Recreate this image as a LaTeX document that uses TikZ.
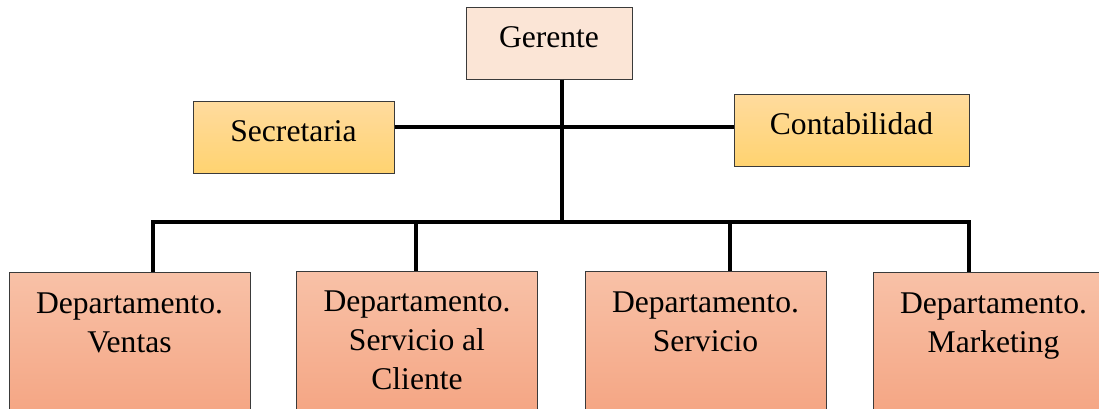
\documentclass[tikz,border=0pt]{standalone}
\usepackage{fontspec}
\setmainfont{Liberation Serif}
\usetikzlibrary{positioning}
\definecolor{gerentefill}{HTML}{FBE5D6}
\definecolor{staffarriba}{HTML}{FFDB9E}
\definecolor{staffabajo}{HTML}{FFD370}
\definecolor{deptarriba}{HTML}{F8C1A7}
\definecolor{deptabajo}{HTML}{F4A27F}
\definecolor{borde}{HTML}{3A3A3A}
\tikzset{
  caja/.style={draw=borde, line width=0.5pt, inner sep=0pt,
    font=\fontsize{15.8}{19.5}\selectfont},
  cajasup/.style={caja, text depth=6pt},
  staff/.style={cajasup, minimum height=36pt, top color=staffarriba, bottom color=staffabajo},
  dept/.style={caja, anchor=north, minimum width=120.5pt, minimum height=80pt,
    top color=deptarriba, bottom color=deptabajo},
  dtexto/.style={inner sep=0pt, align=center, font=\fontsize{15.8}{19.5}\selectfont},
  linea/.style={line width=2pt, line join=miter}
}
\begin{document}
\begin{tikzpicture}[x=0.5pt, y=-0.5pt]
\clip (0,0) rectangle (1099,408);
% cajas de arriba
\node[cajasup, fill=gerentefill, minimum width=83pt, minimum height=36pt] (gerente) at (549,43) {Gerente};
\node[staff, minimum width=100.5pt] (secretaria) at (293.5,137.5) {Secretaria};
\node[staff, minimum width=117.5pt] (contabilidad) at (851.5,130) {Contabilidad};
% departamentos
\node[dept] (ventas) at (129.5,272) {};
\node[dept] (cliente) at (417,271) {};
\node[dept] (servicio) at (705.5,271) {};
\node[dept] (marketing) at (993.5,272) {};
\node[dtexto, below=10pt of ventas.north] (ventas-t) {Departamento.\\ Ventas};
\node[dtexto, below=9.5pt of cliente.north] (cliente-t) {Departamento.\\ Servicio al\\ Cliente};
\node[dtexto, below=10pt of servicio.north] (servicio-t) {Departamento.\\ Servicio};
\node[dtexto, below=10pt of marketing.north] (marketing-t) {Departamento.\\ Marketing};
% lineas
\coordinate (tronco) at (562,222);
\coordinate (apoyo) at (562,127);
\foreach \n/\x in {1/153, 2/416, 3/730, 4/969}
  \coordinate (bus\n) at (\x,222);
\draw[linea] (tronco |- gerente.south) -- (tronco);
\draw[linea] (secretaria.east |- apoyo) -- (contabilidad.west |- apoyo);
\draw[linea] (bus1 |- ventas.north) -- (bus1) -- (bus4) -- (bus4 |- marketing.north);
\draw[linea] (bus2) -- (bus2 |- cliente.north);
\draw[linea] (bus3) -- (bus3 |- servicio.north);
\end{tikzpicture}
\end{document}
